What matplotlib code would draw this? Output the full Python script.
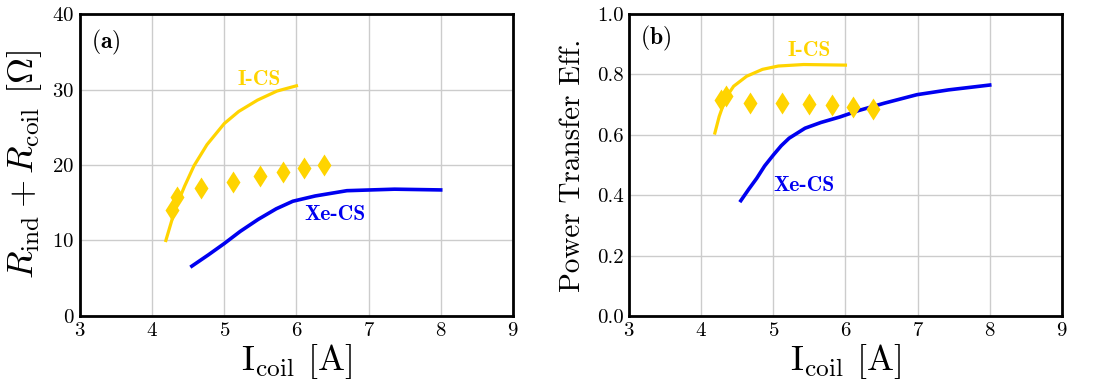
import matplotlib
matplotlib.use('Agg')
import matplotlib.pyplot as plt

plt.rcParams['font.family'] = 'serif'
plt.rcParams['font.serif'] = ['cmr10']
plt.rcParams['mathtext.fontset'] = 'cm'
plt.rcParams['axes.formatter.use_mathtext'] = True

# values
i_cs_x = [4.19, 4.32, 4.45, 4.58, 4.76, 5.00, 5.20, 5.46, 5.73, 6.00]
i_cs_r = [10.0, 14.2, 17.2, 19.9, 22.7, 25.5, 27.1, 28.6, 29.8, 30.5]
xe_cs_x = [4.55, 4.78, 5.00, 5.22, 5.47, 5.72, 5.95, 6.26, 6.70, 7.36, 8.00]
xe_cs_r = [6.6, 8.1, 9.6, 11.2, 12.8, 14.2, 15.2, 15.9, 16.6, 16.8, 16.7]
meas_x = [4.28, 4.34, 4.68, 5.12, 5.50, 5.82, 6.10, 6.38]
meas_r = [14.0, 15.8, 17.0, 17.8, 18.5, 19.1, 19.6, 20.0]

i_cs_eff_x = [4.19, 4.25, 4.34, 4.45, 4.63, 4.85, 5.07, 5.42, 6.00]
i_cs_eff = [0.606, 0.661, 0.722, 0.761, 0.794, 0.817, 0.828, 0.833, 0.831]
xe_cs_eff_x = [4.55, 4.66, 4.77, 4.88, 5.00, 5.11, 5.22, 5.44, 5.66, 5.92, 6.19, 6.54, 6.99, 7.43, 8.00]
xe_cs_eff = [0.382, 0.420, 0.456, 0.497, 0.533, 0.564, 0.589, 0.622, 0.641, 0.659, 0.681, 0.705, 0.733, 0.749, 0.765]
meas_eff = [0.715, 0.730, 0.705, 0.705, 0.703, 0.698, 0.691, 0.685]

yellow = '#FFD400'
blue = '#0000F0'

fig = plt.figure(figsize=(10.93, 3.92), dpi=100)
ax1 = fig.add_axes([0.0732, 0.194, 0.396, 0.770])
ax2 = fig.add_axes([0.5755, 0.194, 0.396, 0.770])

def style(ax):
	ax.set_xlim(3, 9)
	ax.grid(True, color='#cccccc', linewidth=1.0)
	ax.set_axisbelow(True)
	for s in ax.spines.values():
		s.set_linewidth(2.0)
	ax.tick_params(length=0, labelsize=15, pad=4)
	ax.set_xlabel(r'I$_{\rm coil}$ [A]', fontsize=26, labelpad=2)

ax1.plot(i_cs_x, i_cs_r, color=yellow, lw=2.3)
ax1.plot(xe_cs_x, xe_cs_r, color=blue, lw=2.6)
ax1.plot(meas_x, meas_r, 'd', color=yellow, ms=11.5, mec='none')
ax1.set_ylim(0, 40)
ax1.set_yticks([0, 10, 20, 30, 40])
style(ax1)
ax1.set_ylabel(r'$R_{\rm ind} + R_{\rm coil}$ [$\Omega$]', fontsize=26, labelpad=6)
ax1.text(3.36, 36.2, r'$(\mathbf{a})$', fontsize=17, ha='center', va='center')
ax1.text(5.49, 31.4, 'I-CS', family='cmb10', color=yellow, fontsize=15.5, ha='center', va='center')
ax1.text(6.53, 13.4, 'Xe-CS', family='cmb10', color=blue, fontsize=15.5, ha='center', va='center')

ax2.plot(i_cs_eff_x, i_cs_eff, color=yellow, lw=2.3)
ax2.plot(xe_cs_eff_x, xe_cs_eff, color=blue, lw=2.6)
ax2.plot(meas_x, meas_eff, 'd', color=yellow, ms=11.5, mec='none')
ax2.set_ylim(0, 1.0)
ax2.set_yticks([0.0, 0.2, 0.4, 0.6, 0.8, 1.0])
ax2.set_yticklabels(['0.0', '0.2', '0.4', '0.6', '0.8', '1.0'])
style(ax2)
ax2.set_ylabel('Power Transfer Eff.', fontsize=21, labelpad=8)
ax2.text(3.37, 0.92, r'$(\mathbf{b})$', fontsize=17, ha='center', va='center')
ax2.text(5.50, 0.88, 'I-CS', family='cmb10', color=yellow, fontsize=15.5, ha='center', va='center')
ax2.text(5.43, 0.431, 'Xe-CS', family='cmb10', color=blue, fontsize=15.5, ha='center', va='center')

fig.savefig('out.png', dpi=100)
